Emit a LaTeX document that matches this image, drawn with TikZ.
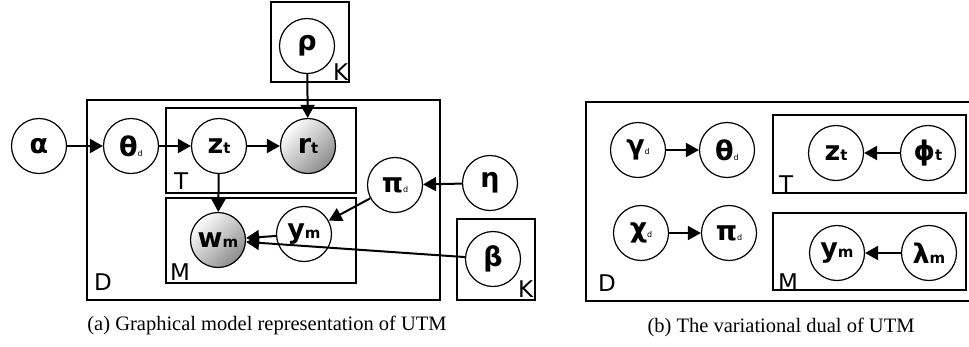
\documentclass[tikz,border=0pt]{standalone}
\usepackage{fontspec}
\setmainfont{Liberation Serif}
\setsansfont{DejaVu Sans}
\usetikzlibrary{arrows.meta}
\newcommand\dsub[1]{{\fontsize{8}{8}\selectfont\mdseries #1}}
\newcommand\msub[1]{{\fontsize{15}{15}\selectfont #1}}
\begin{document}
\begin{tikzpicture}[x=1pt,y=-1pt,
  var/.style={circle,draw,line width=1.2pt,minimum size=55pt,inner sep=0pt,
    font=\sffamily\bfseries\fontsize{27}{27}\selectfont},
  obs/.style={var,top color=white,bottom color=black!45,shading angle=45},
  plate/.style={draw,line width=1.2pt},
  plab/.style={anchor=base west,inner sep=0pt,font=\sffamily\fontsize{23}{23}\selectfont},
  edge/.style={line width=2pt,-{Triangle[length=13pt,width=14pt]}},
  captext/.style={inner sep=0pt,font=\fontsize{20.5}{20.5}\selectfont}]
\useasboundingbox (0,0) rectangle (969,346);
% ---------- (a) ----------
\draw[plate] (271,2) rectangle (349,82);
\draw[plate] (87,100) rectangle (440,300);
\draw[plate] (166,108) rectangle (356,193);
\draw[plate] (166,198) rectangle (356,283);
\draw[plate] (457,219) rectangle (535,300);
\node[plab] (kA) at (333,80) {K};
\node[plab] (dA) at (94,290) {D};
\node[plab] (tA) at (174,189) {T};
\node[plab] (mA) at (170,280) {M};
\node[plab] (kB) at (518,297) {K};

\node[var] (alpha) at (39,146) {α};
\node[var] (thetaA) at (131,146) {θ\dsub{d}};
\node[var] (zA) at (219,146) {z\msub{t}};
\node[obs] (r) at (308,146) {r\msub{t}};
\node[var] (rho) at (307,46) {ρ};
\node[var] (piA) at (395,185) {π\dsub{d}};
\node[var] (eta) at (490,183) {η};
\node[var] (yA) at (304,234) {y\msub{m}};
\node[obs] (w) at (218,240) {w\msub{m}};
\node[var] (beta) at (493,259) {β};

\draw[edge] (alpha) -- (thetaA);
\draw[edge] (thetaA) -- (zA);
\draw[edge] (zA) -- (r);
\draw[edge] (rho) -- (r);
\draw[edge] (zA) -- (w);
\draw[edge] (eta) -- (piA);
\draw[edge] (piA) -- (yA);
\draw[edge] (yA) -- (w);
\draw[edge] (beta) -- (w);

\node[captext] (capA) at (267,325) {(a) Graphical model representation of UTM};
% ---------- (b) ----------
\draw[plate] (972,102) -- (586,102) -- (586,301) -- (972,301);
\draw[plate] (773,115) rectangle (966,193);
\draw[plate] (773,213) rectangle (966,290);
\node[plab] (dB) at (598,291) {D};
\node[plab] (tB) at (779,192) {T};
\node[plab] (mB) at (778,290) {M};

\node[var] (gamma) at (638,150) {γ\dsub{d}};
\node[var] (thetaB) at (727,150) {θ\dsub{d}};
\node[var] (chi) at (641,233) {χ\dsub{d}};
\node[var] (piB) at (729,233) {π\dsub{d}};
\node[var] (zB) at (836,153) {z\msub{t}};
\node[var] (phi) at (928,153) {ϕ\msub{t}};
\node[var] (yB) at (837,253) {y\msub{m}};
\node[var] (lambda) at (929,253) {λ\msub{m}};

\draw[edge] (gamma) -- (thetaB);
\draw[edge] (chi) -- (piB);
\draw[edge] (phi) -- (zB);
\draw[edge] (lambda) -- (yB);

\node[captext] (capB) at (781,327) {(b) The variational dual of UTM};
\end{tikzpicture}
\end{document}
